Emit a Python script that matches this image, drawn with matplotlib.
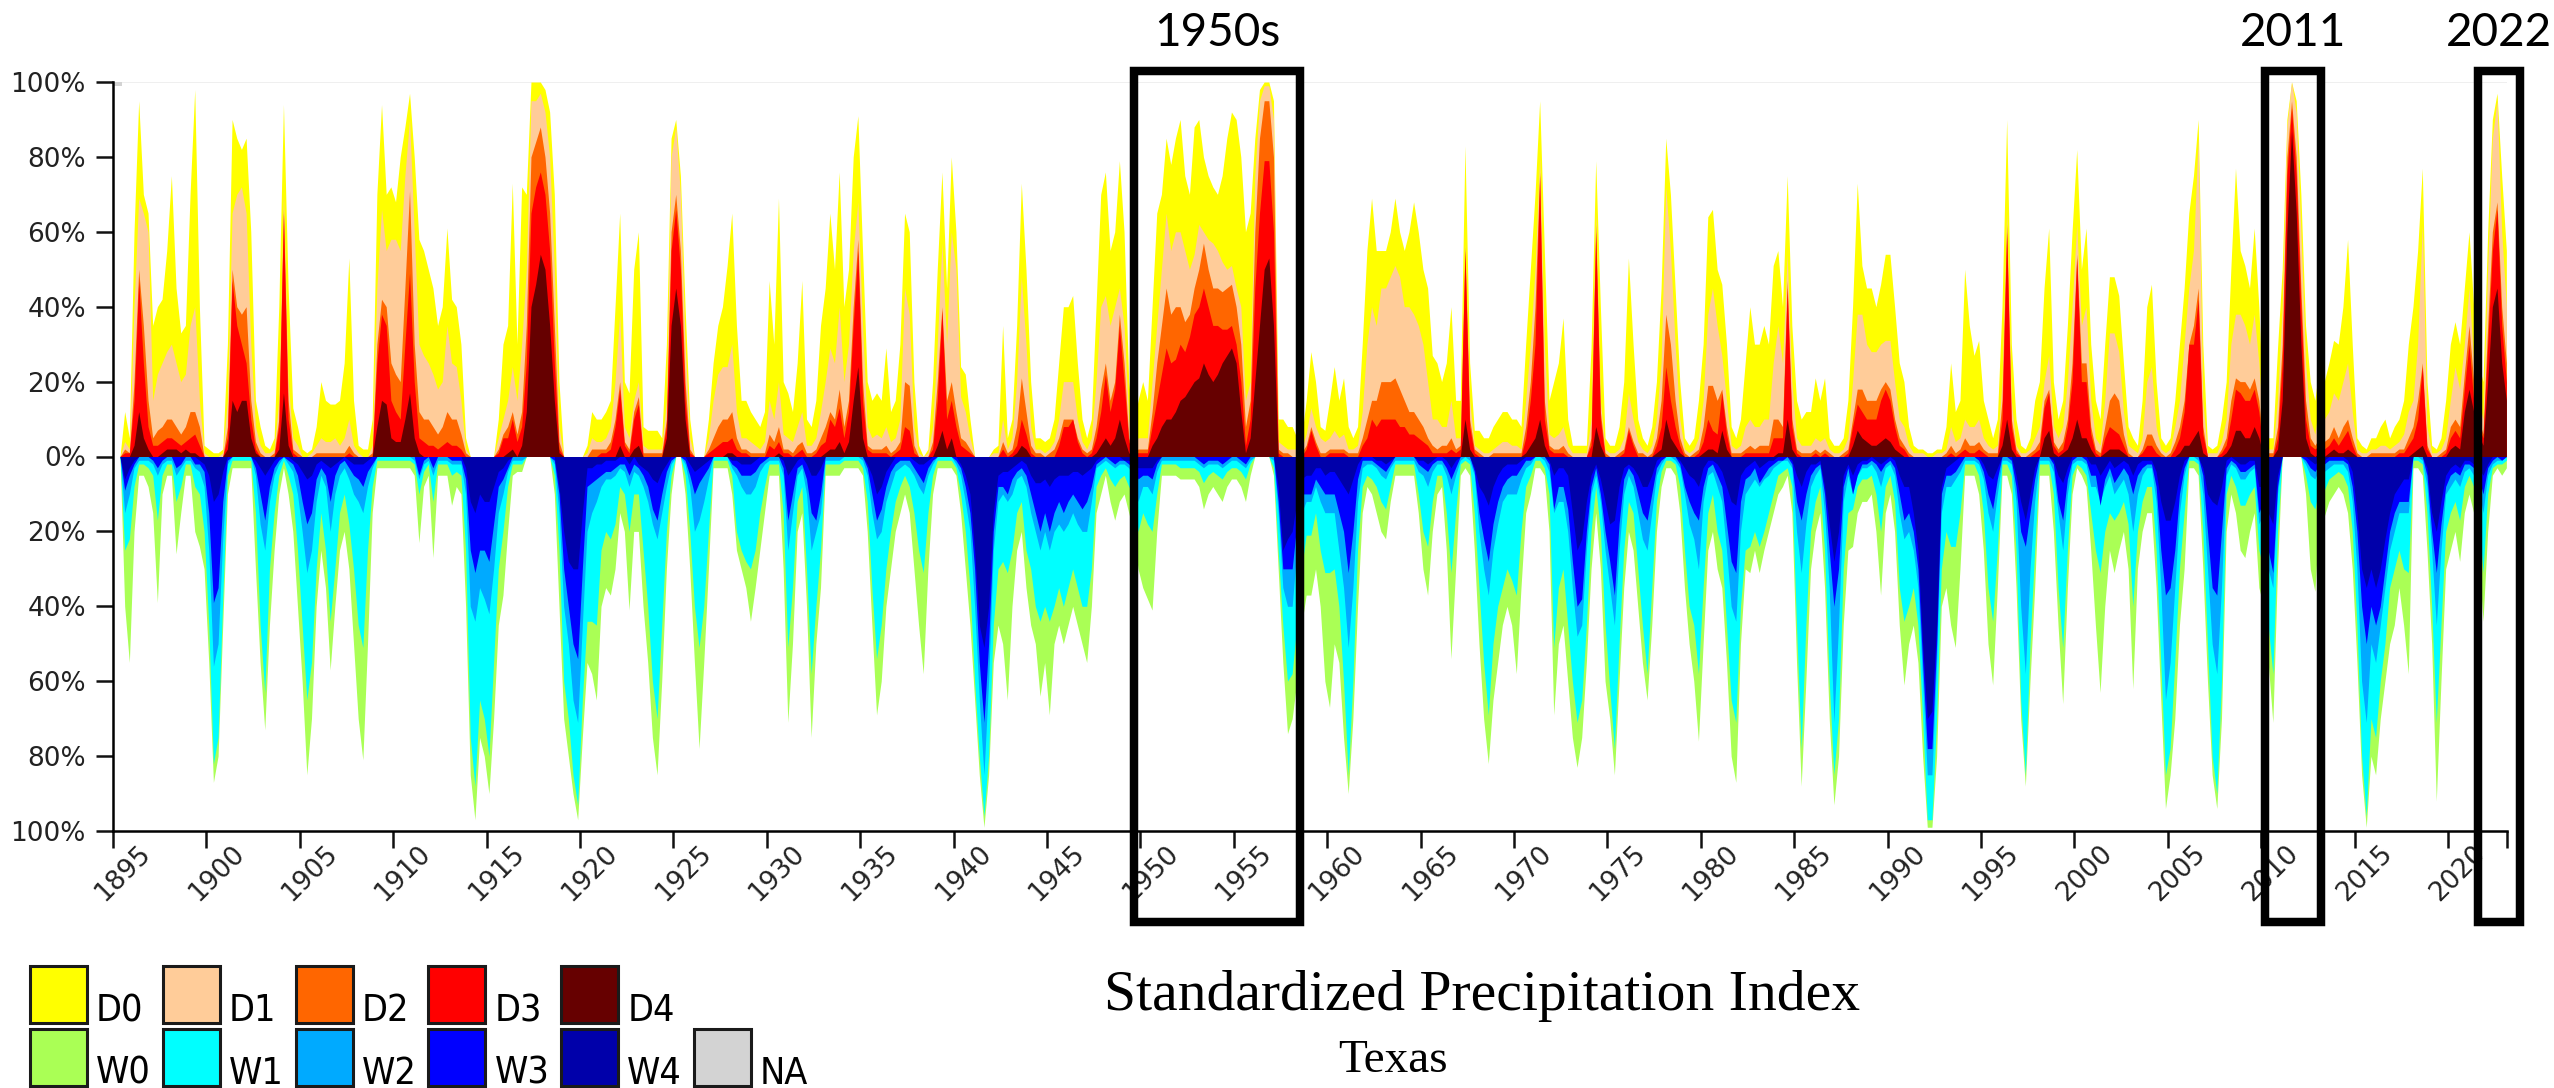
import numpy as np
import matplotlib.pyplot as plt
import matplotlib.transforms as mtransforms
from matplotlib.patches import Rectangle

# Texas SPI, percent of area per category, quarterly; one row per year,
# 2023 only has its first quarter. Dry edges are cumulative (D0 = D0..D4).
years = list(range(1895, 2024))

d0 = [
    [0, 0, 12, 5], [60, 95, 70, 65], [35, 40, 42, 55], [75, 45, 33, 35], [70, 98, 40, 3],  # 1895
    [2, 1, 1, 2], [30, 90, 85, 82], [85, 60, 15, 8], [3, 2, 5, 40], [94, 45, 13, 8],  # 1900
    [2, 1, 2, 8], [20, 15, 14, 14], [15, 25, 53, 15], [3, 2, 2, 10], [70, 94, 70, 72],  # 1905
    [68, 80, 88, 97], [80, 58, 55, 50], [45, 35, 40, 61], [42, 40, 30, 5], [0, 0, 0, 0],  # 1910
    [0, 0, 10, 30], [35, 73, 30, 72], [70, 100, 100, 100], [98, 92, 70, 20], [0, 0, 0, 0],  # 1915
    [0, 3, 12, 10], [10, 12, 15, 40], [65, 20, 17, 50], [60, 8, 7, 7], [7, 5, 30, 85],  # 1920
    [90, 75, 40, 10], [0, 0, 0, 10], [25, 35, 40, 51], [65, 35, 15, 15], [12, 10, 8, 12],  # 1925
    [47, 30, 69, 20], [17, 12, 25, 47], [10, 8, 15, 35], [45, 65, 50, 76], [40, 50, 80, 91],  # 1930
    [55, 20, 15, 17], [15, 29, 12, 15], [30, 65, 60, 20], [3, 0, 2, 20], [50, 76, 45, 80],  # 1935
    [60, 24, 22, 10], [0, 0, 0, 0], [2, 3, 35, 5], [10, 35, 73, 50], [20, 5, 5, 4],  # 1940
    [5, 10, 25, 40], [40, 43, 25, 10], [5, 10, 40, 70], [76, 55, 60, 79], [60, 20, 8, 15],  # 1945
    [20, 15, 40, 65], [70, 85, 78, 85], [90, 75, 70, 88], [90, 80, 75, 72], [70, 75, 85, 92],  # 1950
    [90, 80, 60, 65], [85, 98, 100, 100], [95, 10, 10, 8], [8, 5, 5, 15], [28, 20, 8, 7],  # 1955
    [15, 24, 15, 21], [8, 5, 8, 30], [55, 69, 55, 55], [55, 60, 69, 60], [55, 60, 68, 60],  # 1960
    [50, 45, 27, 25], [20, 25, 40, 15], [15, 83, 25, 7], [7, 5, 5, 8], [10, 12, 12, 10],  # 1965
    [10, 8, 30, 50], [70, 95, 55, 15], [20, 25, 37, 10], [3, 3, 3, 3], [29, 79, 40, 5],  # 1970
    [3, 3, 8, 20], [53, 30, 10, 5], [3, 8, 20, 45], [85, 70, 45, 20], [5, 3, 5, 15],  # 1975
    [30, 64, 66, 50], [46, 30, 8, 5], [10, 25, 40, 30], [30, 35, 30, 51], [55, 40, 75, 35],  # 1980
    [15, 10, 12, 12], [21, 15, 21, 5], [3, 3, 5, 15], [40, 73, 51, 45], [45, 40, 46, 54],  # 1985
    [54, 40, 25, 20], [8, 3, 2, 2], [1, 1, 2, 2], [8, 25, 12, 15], [50, 35, 27, 31],  # 1990
    [15, 10, 5, 10], [40, 90, 30, 10], [3, 2, 5, 15], [20, 45, 61, 20], [10, 15, 35, 60],  # 1995
    [82, 50, 61, 30], [15, 10, 30, 48], [48, 43, 25, 8], [5, 3, 15, 40], [46, 20, 5, 3],  # 2000
    [5, 15, 30, 45], [65, 75, 90, 30], [3, 2, 3, 10], [20, 50, 77, 55], [51, 45, 61, 40],  # 2005
    [10, 5, 5, 29], [50, 90, 100, 95], [70, 35, 20, 15], [25, 20, 25, 31], [30, 40, 58, 30],  # 2010
    [5, 3, 2, 5], [5, 8, 10, 5], [8, 10, 15, 30], [40, 55, 77, 20], [3, 2, 5, 15],  # 2015
    [30, 36, 30, 45], [60, 40, 25, 20], [60, 90, 97, 75], [55],  # 2020
]

d1 = [
    [0, 0, 4, 2], [40, 69, 65, 60], [15, 22, 25, 28], [30, 25, 20, 22], [35, 40, 15, 1],
    [0, 0, 0, 1], [15, 65, 70, 72], [65, 30, 8, 3], [1, 1, 2, 15], [70, 20, 5, 3],
    [0, 0, 1, 3], [5, 4, 4, 5], [3, 5, 10, 3], [1, 0, 0, 3], [45, 66, 55, 58],
    [58, 55, 75, 90], [60, 30, 27, 25], [22, 18, 20, 35], [25, 24, 15, 2], [0, 0, 0, 0],
    [0, 0, 5, 10], [15, 24, 15, 30], [50, 95, 95, 97], [92, 80, 50, 8], [0, 0, 0, 0],
    [0, 1, 5, 4], [4, 5, 8, 20], [38, 8, 5, 15], [20, 3, 2, 2], [2, 2, 15, 80],
    [88, 70, 30, 5], [0, 0, 0, 5], [15, 22, 24, 24], [30, 12, 5, 5], [4, 3, 2, 4],
    [15, 10, 20, 6], [5, 4, 8, 12], [3, 3, 5, 12], [20, 29, 25, 40], [20, 30, 55, 68],
    [35, 8, 5, 6], [5, 8, 4, 5], [10, 45, 38, 8], [1, 0, 1, 8], [30, 57, 30, 60],
    [50, 16, 12, 5], [0, 0, 0, 0], [1, 1, 10, 2], [5, 20, 48, 30], [8, 2, 2, 1],
    [2, 4, 10, 20], [20, 20, 10, 4], [2, 5, 20, 40], [43, 35, 40, 45], [35, 10, 3, 5],
    [5, 5, 20, 35], [50, 65, 55, 60], [60, 55, 50, 54], [62, 60, 58, 57], [55, 52, 50, 51],
    [45, 40, 15, 20], [75, 95, 99, 99], [90, 4, 3, 2], [2, 2, 2, 6], [13, 8, 5, 4],
    [5, 7, 5, 6], [2, 2, 3, 12], [30, 40, 35, 45], [45, 48, 51, 48], [40, 40, 38, 35],
    [30, 20, 10, 10], [8, 8, 15, 5], [5, 57, 15, 3], [2, 1, 1, 2], [3, 4, 4, 3],
    [3, 2, 15, 30], [50, 80, 30, 6], [5, 6, 8, 3], [1, 1, 1, 1], [10, 65, 15, 2],
    [1, 1, 2, 5], [17, 10, 4, 2], [1, 3, 10, 25], [72, 55, 30, 10], [2, 1, 2, 5],
    [15, 38, 45, 35], [27, 15, 3, 2], [3, 8, 10, 8], [8, 10, 10, 25], [35, 25, 54, 20],
    [5, 3, 3, 3], [5, 4, 5, 2], [1, 1, 2, 5], [20, 38, 38, 30], [28, 28, 30, 31],
    [31, 20, 10, 8], [3, 1, 1, 1], [0, 0, 1, 1], [2, 8, 4, 5], [10, 8, 8, 10],
    [5, 3, 2, 3], [20, 65, 15, 3], [1, 1, 2, 5], [8, 20, 27, 8], [5, 8, 20, 40],
    [62, 35, 40, 15], [5, 3, 15, 33], [33, 28, 12, 3], [2, 1, 5, 20], [24, 8, 2, 1],
    [2, 8, 15, 30], [45, 55, 85, 15], [1, 1, 1, 4], [10, 30, 38, 38], [35, 30, 38, 25],
    [5, 2, 2, 15], [40, 88, 100, 92], [60, 25, 10, 6], [15, 10, 12, 17], [15, 20, 25, 12],
    [2, 1, 1, 2], [2, 3, 3, 2], [3, 4, 6, 12], [15, 30, 62, 8], [1, 1, 2, 5],
    [15, 24, 18, 30], [45, 25, 15, 10], [50, 85, 95, 60], [40],
]

d2 = [
    [0, 0, 2, 1], [20, 50, 35, 15], [5, 7, 8, 10], [10, 8, 6, 8], [12, 12, 8, 0],
    [0, 0, 0, 0], [8, 50, 40, 38], [40, 15, 4, 1], [0, 0, 1, 10], [66, 15, 2, 1],
    [0, 0, 0, 1], [1, 1, 1, 1], [1, 1, 3, 1], [0, 0, 0, 1], [30, 42, 40, 25],
    [22, 20, 45, 71], [30, 12, 10, 10], [8, 6, 8, 12], [10, 10, 6, 1], [0, 0, 0, 0],
    [0, 0, 2, 6], [8, 12, 6, 12], [35, 80, 84, 88], [80, 65, 35, 4], [0, 0, 0, 0],
    [0, 0, 2, 2], [2, 2, 4, 10], [20, 4, 2, 12], [16, 1, 1, 1], [1, 1, 10, 60],
    [70, 55, 20, 2], [0, 0, 0, 2], [5, 8, 10, 10], [12, 5, 2, 2], [1, 1, 1, 1],
    [6, 4, 8, 2], [2, 1, 3, 4], [1, 1, 2, 5], [8, 12, 10, 18], [8, 15, 40, 58],
    [20, 3, 2, 2], [2, 3, 1, 2], [4, 20, 19, 3], [0, 0, 0, 4], [20, 40, 15, 20],
    [12, 5, 4, 2], [0, 0, 0, 0], [0, 0, 4, 1], [2, 8, 21, 12], [3, 1, 1, 0],
    [1, 2, 5, 10], [10, 10, 5, 2], [1, 2, 8, 18], [25, 15, 20, 38], [25, 5, 1, 2],
    [2, 2, 12, 25], [35, 45, 38, 40], [40, 36, 38, 45], [50, 57, 50, 45], [45, 44, 45, 46],
    [40, 30, 8, 15], [60, 85, 95, 95], [80, 2, 1, 1], [0, 0, 1, 3], [8, 4, 1, 1],
    [2, 2, 2, 2], [1, 1, 1, 5], [10, 15, 15, 20], [20, 20, 21, 18], [15, 12, 12, 10],
    [8, 5, 3, 2], [3, 3, 5, 2], [3, 56, 10, 2], [1, 0, 0, 1], [1, 1, 1, 1],
    [1, 1, 8, 20], [40, 76, 15, 3], [2, 2, 3, 1], [0, 0, 0, 0], [5, 62, 12, 1],
    [0, 0, 1, 2], [8, 4, 1, 1], [0, 1, 5, 15], [38, 30, 15, 5], [1, 0, 1, 2],
    [8, 19, 19, 15], [18, 8, 1, 1], [1, 2, 3, 2], [3, 3, 3, 10], [10, 8, 47, 10],
    [2, 1, 1, 1], [2, 1, 2, 1], [0, 0, 1, 2], [10, 18, 18, 15], [15, 15, 18, 20],
    [18, 10, 5, 3], [1, 0, 0, 0], [0, 0, 0, 0], [1, 3, 1, 2], [5, 3, 3, 4],
    [2, 1, 1, 1], [15, 62, 10, 2], [0, 0, 1, 2], [4, 15, 18, 4], [2, 4, 10, 25],
    [54, 25, 25, 8], [2, 1, 8, 15], [17, 15, 6, 1], [0, 0, 2, 6], [6, 3, 1, 0],
    [1, 4, 8, 15], [30, 35, 45, 8], [0, 0, 0, 2], [5, 15, 21, 20], [20, 18, 21, 15],
    [2, 1, 1, 8], [30, 80, 95, 80], [45, 15, 5, 3], [5, 4, 5, 8], [5, 8, 10, 5],
    [1, 0, 0, 1], [1, 1, 1, 1], [1, 2, 2, 5], [8, 15, 25, 3], [0, 0, 1, 2],
    [8, 10, 8, 22], [35, 20, 10, 6], [35, 60, 68, 40], [25],
]

d3 = [
    [0, 0, 1, 1], [15, 47, 25, 8], [3, 3, 4, 5], [5, 4, 3, 4], [5, 6, 3, 0],
    [0, 0, 0, 0], [5, 47, 35, 30], [25, 10, 2, 0], [0, 0, 0, 8], [65, 10, 1, 0],
    [0, 0, 0, 0], [0, 0, 0, 0], [0, 0, 1, 0], [0, 0, 0, 0], [25, 38, 35, 15],
    [12, 10, 30, 49], [20, 5, 4, 3], [3, 2, 3, 4], [3, 3, 2, 0], [0, 0, 0, 0],
    [0, 0, 1, 5], [5, 10, 4, 8], [25, 65, 72, 76], [70, 55, 25, 2], [0, 0, 0, 0],
    [0, 0, 0, 0], [1, 1, 2, 8], [18, 3, 1, 10], [14, 0, 0, 0], [0, 0, 8, 55],
    [66, 50, 15, 1], [0, 0, 0, 1], [2, 3, 4, 4], [5, 2, 1, 1], [0, 0, 0, 0],
    [3, 2, 4, 1], [1, 0, 1, 2], [0, 0, 1, 3], [4, 10, 8, 13], [5, 12, 35, 55],
    [15, 2, 1, 1], [1, 1, 0, 1], [2, 8, 7, 1], [0, 0, 0, 2], [15, 39, 10, 15],
    [8, 3, 2, 1], [0, 0, 0, 0], [0, 0, 2, 0], [1, 3, 10, 6], [1, 0, 0, 0],
    [0, 0, 3, 8], [8, 10, 4, 1], [0, 1, 5, 12], [22, 12, 18, 35], [20, 4, 1, 1],
    [1, 1, 8, 15], [22, 29, 25, 26], [30, 28, 32, 38], [40, 45, 40, 35], [35, 34, 34, 35],
    [30, 20, 3, 10], [45, 65, 79, 79], [60, 1, 0, 0], [0, 0, 0, 2], [7, 3, 0, 0],
    [1, 1, 1, 1], [0, 0, 0, 3], [5, 10, 8, 10], [10, 10, 10, 8], [8, 6, 6, 5],
    [4, 3, 1, 1], [1, 1, 2, 1], [2, 55, 8, 1], [0, 0, 0, 0], [0, 0, 0, 0],
    [0, 0, 5, 15], [30, 75, 10, 2], [1, 1, 1, 0], [0, 0, 0, 0], [3, 60, 10, 0],
    [0, 0, 0, 1], [7, 3, 0, 0], [0, 0, 3, 8], [24, 15, 8, 3], [0, 0, 0, 1],
    [4, 10, 7, 6], [17, 6, 0, 0], [0, 1, 1, 1], [1, 1, 1, 5], [5, 5, 45, 8],
    [1, 0, 0, 0], [1, 0, 1, 0], [0, 0, 0, 1], [8, 14, 12, 10], [10, 10, 15, 18],
    [15, 8, 3, 2], [0, 0, 0, 0], [0, 0, 0, 0], [0, 1, 0, 1], [2, 1, 1, 2],
    [1, 0, 0, 0], [10, 60, 8, 1], [0, 0, 0, 1], [2, 13, 17, 3], [1, 2, 8, 20],
    [53, 20, 20, 6], [1, 0, 5, 8], [7, 6, 3, 0], [0, 0, 1, 3], [3, 1, 0, 0],
    [0, 2, 5, 12], [30, 30, 42, 6], [0, 0, 0, 1], [3, 10, 18, 17], [15, 15, 18, 12],
    [1, 0, 0, 5], [25, 75, 93, 75], [40, 10, 3, 2], [3, 2, 3, 5], [3, 5, 7, 3],
    [0, 0, 0, 0], [0, 0, 0, 0], [0, 1, 1, 3], [5, 10, 24, 2], [0, 0, 0, 1],
    [5, 7, 5, 18], [30, 15, 8, 5], [30, 55, 66, 35], [20],
]

d4 = [
    [0, 0, 0, 0], [3, 12, 5, 2], [0, 0, 1, 2], [2, 2, 1, 2], [1, 1, 0, 0],
    [0, 0, 0, 0], [2, 15, 12, 15], [15, 5, 1, 0], [0, 0, 0, 2], [17, 3, 0, 0],
    [0, 0, 0, 0], [0, 0, 0, 0], [0, 0, 0, 0], [0, 0, 0, 0], [8, 15, 14, 5],
    [4, 4, 10, 17], [5, 1, 0, 0], [0, 0, 0, 0], [0, 0, 0, 0], [0, 0, 0, 0],
    [0, 0, 0, 0], [1, 2, 0, 3], [12, 40, 46, 54], [50, 35, 15, 1], [0, 0, 0, 0],
    [0, 0, 0, 0], [0, 0, 0, 0], [3, 0, 0, 2], [3, 0, 0, 0], [0, 0, 5, 35],
    [45, 35, 10, 0], [0, 0, 0, 0], [0, 0, 0, 1], [1, 0, 0, 0], [0, 0, 0, 0],
    [0, 0, 1, 0], [0, 0, 0, 0], [0, 0, 0, 0], [1, 2, 2, 4], [1, 4, 15, 24],
    [5, 0, 0, 0], [0, 0, 0, 0], [0, 0, 0, 0], [0, 0, 0, 0], [3, 7, 2, 5],
    [0, 0, 0, 0], [0, 0, 0, 0], [0, 0, 0, 0], [0, 1, 3, 2], [0, 0, 0, 0],
    [0, 0, 0, 0], [0, 0, 0, 0], [0, 0, 1, 3], [5, 3, 5, 10], [5, 1, 0, 0],
    [0, 0, 3, 5], [8, 10, 10, 12], [15, 16, 18, 20], [21, 25, 22, 20], [22, 25, 27, 29],
    [25, 12, 1, 5], [20, 35, 50, 53], [35, 0, 0, 0], [0, 0, 0, 0], [0, 0, 0, 0],
    [0, 0, 0, 0], [0, 0, 0, 0], [0, 0, 0, 0], [0, 0, 0, 0], [0, 0, 0, 0],
    [0, 0, 0, 0], [0, 0, 0, 0], [0, 10, 2, 0], [0, 0, 0, 0], [0, 0, 0, 0],
    [0, 0, 1, 3], [5, 10, 3, 0], [0, 0, 0, 0], [0, 0, 0, 0], [0, 8, 3, 0],
    [0, 0, 0, 0], [0, 0, 0, 0], [0, 0, 1, 2], [10, 5, 3, 1], [0, 0, 0, 0],
    [1, 2, 2, 1], [7, 2, 0, 0], [0, 0, 0, 0], [0, 0, 0, 0], [1, 1, 10, 2],
    [0, 0, 0, 0], [0, 0, 0, 0], [0, 0, 0, 0], [3, 7, 5, 4], [3, 3, 4, 5],
    [4, 2, 1, 0], [0, 0, 0, 0], [0, 0, 0, 0], [0, 0, 0, 0], [0, 0, 0, 0],
    [0, 0, 0, 0], [3, 10, 2, 0], [0, 0, 0, 0], [0, 5, 7, 1], [0, 1, 2, 5],
    [10, 5, 5, 2], [0, 0, 1, 2], [2, 2, 1, 0], [0, 0, 0, 0], [0, 0, 0, 0],
    [0, 0, 1, 3], [3, 5, 7, 1], [0, 0, 0, 0], [1, 3, 7, 7], [5, 5, 8, 5],
    [0, 0, 0, 2], [15, 60, 87, 65], [30, 5, 1, 0], [1, 0, 1, 2], [1, 1, 2, 1],
    [0, 0, 0, 0], [0, 0, 0, 0], [0, 0, 0, 0], [1, 2, 3, 0], [0, 0, 0, 0],
    [2, 3, 2, 12], [18, 12, 6, 3], [20, 40, 45, 25], [15],
]

# wet side, cumulative the same way (W0 = W0..W4), plotted below zero
w0 = [
    [0, 0, 40, 55], [20, 5, 5, 8], [15, 39, 10, 5], [5, 26, 15, 5], [5, 20, 24, 30],
    [55, 87, 80, 45], [10, 3, 3, 3], [3, 3, 30, 55], [73, 45, 25, 10], [3, 10, 20, 40],
    [60, 85, 70, 40], [25, 35, 57, 40], [25, 20, 30, 50], [70, 81, 50, 15], [3, 3, 3, 3],
    [3, 3, 3, 3], [5, 23, 8, 5], [27, 5, 5, 5], [13, 8, 10, 40], [85, 97, 75, 80],
    [90, 70, 45, 37], [20, 5, 4, 4], [0, 0, 0, 0], [0, 0, 10, 40], [70, 80, 90, 97],
    [75, 55, 58, 65], [40, 35, 37, 30], [15, 20, 41, 20], [20, 40, 55, 75], [85, 60, 30, 10],
    [0, 0, 10, 30], [55, 78, 55, 30], [3, 3, 3, 3], [10, 25, 30, 35], [44, 35, 25, 15],
    [5, 5, 5, 30], [71, 50, 20, 15], [40, 75, 50, 35], [5, 5, 5, 5], [3, 3, 3, 3],
    [5, 20, 45, 69], [60, 40, 30, 20], [15, 10, 15, 30], [45, 58, 30, 10], [3, 3, 3, 3],
    [5, 15, 30, 45], [65, 85, 99, 85], [55, 45, 50, 65], [40, 25, 20, 35], [45, 50, 64, 55],
    [69, 50, 45, 50], [45, 40, 45, 50], [55, 40, 15, 10], [5, 12, 17, 12], [10, 15, 20, 30],
    [35, 38, 41, 20], [5, 5, 5, 5], [6, 6, 6, 6], [8, 14, 10, 8], [10, 12, 8, 6],
    [6, 8, 12, 5], [0, 0, 0, 0], [5, 30, 55, 74], [70, 60, 45, 37], [37, 30, 40, 60],
    [67, 50, 55, 75], [90, 70, 40, 15], [8, 10, 15, 20], [22, 12, 5, 5], [5, 5, 5, 15],
    [30, 37, 20, 10], [8, 25, 54, 30], [5, 3, 5, 25], [50, 70, 82, 65], [55, 45, 40, 45],
    [58, 35, 15, 10], [3, 3, 5, 20], [69, 50, 45, 60], [75, 83, 75, 55], [30, 15, 30, 60],
    [70, 85, 60, 35], [20, 25, 40, 55], [65, 45, 20, 8], [3, 3, 5, 15], [35, 50, 60, 76],
    [50, 25, 20, 30], [35, 55, 80, 87], [50, 30, 31, 25], [31, 25, 20, 15], [10, 8, 5, 15],
    [55, 88, 60, 30], [20, 15, 35, 70], [93, 80, 45, 25], [24, 15, 12, 12], [10, 20, 37, 15],
    [10, 20, 45, 61], [50, 45, 55, 80], [99, 99, 80, 40], [35, 45, 51, 30], [5, 5, 5, 10],
    [25, 50, 61, 35], [5, 5, 10, 35], [70, 88, 60, 35], [5, 5, 5, 20], [45, 66, 35, 10],
    [3, 5, 8, 25], [45, 63, 40, 25], [31, 25, 20, 30], [62, 30, 20, 15], [15, 35, 65, 94],
    [85, 70, 45, 30], [3, 3, 5, 30], [60, 85, 94, 70], [20, 10, 15, 25], [27, 20, 15, 35],
    [40, 55, 71, 30], [0, 0, 0, 0], [0, 10, 30, 36], [15, 16, 12, 10], [8, 10, 15, 30],
    [55, 85, 99, 80], [85, 70, 60, 50], [45, 35, 45, 58], [3, 3, 5, 25], [50, 92, 60, 30],
    [25, 20, 28, 15], [10, 15, 25, 44], [20, 5, 3, 5], [3],
]

w1 = [
    [0, 0, 25, 22], [8, 2, 2, 3], [5, 17, 5, 2], [2, 12, 8, 2], [2, 8, 10, 20],
    [45, 82, 75, 38], [5, 1, 1, 1], [1, 1, 15, 45], [63, 30, 15, 5], [1, 5, 10, 25],
    [45, 65, 55, 30], [15, 25, 44, 30], [15, 10, 18, 30], [45, 51, 25, 8], [1, 1, 1, 1],
    [1, 1, 1, 1], [2, 10, 4, 2], [12, 2, 2, 2], [5, 4, 5, 25], [75, 88, 65, 70],
    [80, 55, 30, 20], [8, 2, 2, 2], [0, 0, 0, 0], [0, 0, 5, 25], [60, 70, 85, 93],
    [65, 44, 44, 45], [25, 20, 22, 18], [8, 10, 20, 10], [10, 25, 40, 60], [70, 45, 20, 5],
    [0, 0, 5, 20], [40, 51, 40, 20], [1, 1, 1, 1], [5, 20, 25, 28], [30, 25, 15, 8],
    [2, 2, 2, 15], [51, 35, 12, 8], [30, 58, 40, 25], [2, 2, 2, 2], [1, 1, 1, 1],
    [3, 12, 35, 54], [45, 30, 20, 12], [8, 5, 8, 15], [25, 31, 15, 5], [1, 1, 1, 1],
    [3, 10, 20, 35], [60, 80, 96, 80], [45, 30, 28, 31], [25, 15, 12, 25], [30, 40, 44, 40],
    [44, 40, 35, 40], [35, 30, 35, 40], [40, 30, 8, 5], [3, 6, 8, 6], [5, 8, 10, 20],
    [15, 18, 20, 10], [2, 2, 2, 2], [3, 3, 3, 3], [4, 7, 5, 4], [5, 6, 4, 3],
    [3, 4, 6, 2], [0, 0, 0, 0], [3, 25, 45, 60], [58, 45, 30, 21], [21, 15, 25, 31],
    [31, 30, 40, 60], [85, 60, 25, 8], [5, 6, 8, 12], [14, 8, 2, 2], [2, 2, 2, 10],
    [20, 24, 12, 5], [5, 15, 31, 15], [2, 1, 2, 15], [35, 55, 69, 50], [40, 35, 30, 33],
    [37, 20, 8, 5], [1, 1, 3, 10], [51, 35, 30, 45], [60, 71, 65, 45], [20, 8, 20, 45],
    [62, 78, 50, 25], [12, 15, 30, 45], [58, 35, 12, 4], [1, 1, 2, 8], [25, 40, 45, 58],
    [35, 15, 10, 20], [25, 45, 65, 71], [40, 25, 24, 20], [24, 20, 15, 10], [5, 4, 3, 8],
    [45, 78, 45, 20], [12, 8, 25, 60], [85, 70, 30, 15], [14, 8, 6, 6], [5, 10, 20, 8],
    [5, 12, 35, 44], [40, 35, 45, 70], [97, 97, 70, 30], [20, 24, 24, 15], [2, 2, 2, 5],
    [15, 35, 44, 25], [2, 2, 5, 25], [65, 85, 50, 25], [2, 2, 2, 10], [35, 51, 25, 5],
    [2, 3, 5, 15], [25, 31, 20, 15], [17, 15, 12, 18], [40, 20, 12, 8], [8, 25, 55, 85],
    [78, 55, 30, 15], [1, 1, 2, 20], [50, 80, 90, 60], [10, 5, 8, 13], [13, 10, 8, 25],
    [30, 45, 58, 20], [0, 0, 0, 0], [0, 5, 12, 14], [8, 9, 6, 5], [4, 5, 8, 20],
    [45, 80, 96, 70], [75, 60, 50, 35], [30, 25, 30, 31], [1, 1, 2, 15], [40, 71, 45, 20],
    [15, 12, 17, 8], [5, 8, 15, 31], [10, 3, 2, 2], [1],
]

w2 = [
    [0, 0, 15, 10], [3, 1, 1, 1], [2, 5, 2, 1], [1, 5, 3, 1], [1, 3, 4, 8],
    [25, 56, 50, 22], [2, 0, 0, 0], [0, 0, 5, 18], [25, 12, 5, 2], [0, 2, 4, 10],
    [20, 31, 25, 12], [5, 8, 20, 10], [5, 3, 6, 10], [12, 15, 8, 3], [0, 0, 0, 0],
    [0, 0, 0, 0], [1, 6, 2, 1], [5, 1, 1, 1], [2, 2, 2, 10], [40, 44, 35, 38],
    [42, 30, 15, 10], [4, 1, 1, 1], [0, 0, 0, 0], [0, 0, 2, 15], [40, 50, 65, 71],
    [45, 20, 15, 12], [8, 6, 6, 5], [3, 4, 8, 4], [5, 8, 12, 18], [22, 15, 8, 2],
    [0, 0, 2, 8], [20, 17, 12, 6], [0, 0, 0, 0], [3, 5, 8, 10], [10, 8, 4, 2],
    [1, 1, 1, 5], [25, 15, 5, 3], [10, 25, 20, 15], [1, 1, 1, 1], [0, 0, 0, 0],
    [1, 5, 15, 22], [20, 12, 8, 4], [3, 2, 3, 5], [8, 10, 5, 2], [0, 0, 0, 0],
    [2, 5, 12, 20], [40, 65, 85, 60], [25, 12, 10, 12], [10, 6, 5, 8], [15, 20, 25, 20],
    [25, 20, 18, 20], [18, 15, 18, 20], [20, 12, 3, 2], [1, 2, 3, 2], [2, 3, 5, 12],
    [8, 8, 10, 4], [1, 1, 1, 1], [1, 1, 1, 1], [2, 3, 2, 2], [2, 3, 2, 1],
    [1, 2, 3, 1], [0, 0, 0, 0], [1, 15, 35, 40], [40, 25, 15, 12], [12, 8, 12, 15],
    [15, 15, 25, 35], [51, 35, 12, 3], [2, 2, 3, 5], [6, 3, 1, 1], [1, 1, 1, 4],
    [5, 8, 4, 2], [2, 5, 10, 5], [1, 0, 1, 5], [20, 30, 37, 25], [18, 12, 10, 10],
    [10, 6, 3, 2], [0, 0, 1, 4], [15, 12, 12, 20], [35, 48, 45, 25], [10, 5, 12, 25],
    [35, 45, 25, 10], [5, 8, 15, 22], [25, 15, 5, 2], [0, 0, 1, 3], [10, 18, 22, 30],
    [12, 5, 4, 8], [12, 25, 40, 44], [20, 10, 8, 6], [8, 6, 5, 3], [2, 1, 1, 3],
    [20, 31, 18, 8], [5, 3, 15, 35], [71, 45, 12, 5], [10, 5, 3, 3], [2, 4, 8, 3],
    [2, 5, 15, 22], [20, 25, 35, 60], [85, 85, 55, 15], [8, 8, 6, 4], [1, 1, 1, 2],
    [6, 15, 20, 10], [1, 1, 2, 12], [40, 58, 30, 12], [1, 1, 1, 4], [15, 25, 10, 2],
    [1, 1, 2, 8], [8, 12, 8, 5], [10, 8, 6, 10], [20, 10, 5, 3], [3, 12, 35, 65],
    [55, 35, 15, 5], [0, 0, 1, 10], [30, 50, 58, 35], [5, 2, 3, 6], [6, 4, 3, 18],
    [15, 30, 35, 10], [0, 0, 0, 0], [0, 2, 5, 6], [3, 4, 3, 2], [2, 2, 4, 12],
    [30, 60, 71, 50], [55, 45, 35, 25], [20, 15, 15, 15], [0, 0, 1, 8], [25, 45, 25, 10],
    [8, 6, 8, 4], [3, 5, 8, 15], [5, 2, 1, 1], [0],
]

w3 = [
    [0, 0, 9, 5], [2, 0, 0, 0], [1, 3, 1, 0], [0, 3, 2, 0], [0, 2, 2, 4],
    [15, 39, 35, 12], [1, 0, 0, 0], [0, 0, 3, 10], [17, 8, 3, 1], [0, 1, 2, 5],
    [12, 18, 15, 6], [3, 5, 12, 5], [2, 1, 3, 5], [6, 8, 4, 2], [0, 0, 0, 0],
    [0, 0, 0, 0], [0, 5, 1, 0], [3, 0, 0, 0], [1, 1, 1, 6], [25, 31, 25, 25],
    [28, 18, 8, 6], [3, 0, 0, 0], [0, 0, 0, 0], [0, 0, 1, 10], [30, 40, 50, 54],
    [30, 8, 7, 6], [5, 4, 4, 3], [2, 2, 5, 2], [3, 5, 8, 14], [17, 10, 4, 1],
    [0, 0, 1, 5], [10, 7, 5, 3], [0, 0, 0, 0], [2, 3, 5, 5], [5, 4, 2, 1],
    [0, 0, 0, 3], [17, 10, 3, 2], [6, 15, 17, 10], [0, 0, 0, 0], [0, 0, 0, 0],
    [0, 3, 10, 17], [14, 8, 4, 2], [1, 1, 1, 3], [5, 7, 3, 1], [0, 0, 0, 0],
    [1, 3, 8, 15], [30, 55, 71, 50], [20, 8, 8, 10], [6, 4, 3, 5], [10, 15, 20, 15],
    [20, 15, 12, 15], [12, 10, 12, 14], [12, 8, 2, 1], [0, 1, 2, 1], [1, 2, 3, 6],
    [5, 5, 6, 2], [0, 0, 0, 0], [0, 0, 0, 0], [1, 2, 1, 1], [1, 2, 1, 0],
    [0, 1, 2, 0], [0, 0, 0, 0], [0, 12, 30, 30], [30, 18, 10, 10], [10, 6, 8, 10],
    [10, 10, 15, 20], [31, 20, 6, 1], [1, 1, 2, 3], [4, 2, 0, 0], [0, 0, 0, 2],
    [3, 4, 2, 1], [1, 3, 6, 3], [0, 0, 0, 4], [15, 22, 28, 18], [12, 8, 6, 5],
    [5, 3, 1, 1], [0, 0, 0, 2], [14, 8, 8, 14], [28, 40, 38, 20], [8, 3, 10, 20],
    [28, 37, 18, 6], [3, 5, 10, 15], [17, 10, 3, 1], [0, 0, 0, 2], [8, 12, 15, 17],
    [8, 3, 2, 5], [8, 18, 28, 31], [12, 6, 5, 3], [7, 5, 3, 2], [1, 1, 0, 2],
    [12, 17, 10, 5], [3, 2, 10, 25], [40, 30, 8, 3], [10, 5, 2, 2], [1, 2, 4, 2],
    [1, 3, 10, 17], [15, 20, 30, 55], [78, 78, 50, 10], [5, 5, 4, 2], [0, 0, 0, 1],
    [4, 10, 14, 6], [0, 0, 1, 8], [20, 24, 15, 6], [0, 0, 0, 2], [12, 17, 6, 1],
    [0, 0, 1, 5], [5, 13, 6, 3], [7, 5, 3, 5], [10, 5, 3, 2], [2, 8, 25, 37],
    [35, 25, 10, 3], [0, 0, 0, 5], [20, 35, 37, 20], [3, 1, 2, 4], [4, 3, 2, 15],
    [12, 25, 31, 8], [0, 0, 0, 0], [0, 1, 3, 4], [2, 2, 1, 1], [1, 1, 2, 8],
    [20, 40, 50, 40], [45, 40, 30, 20], [15, 12, 12, 12], [0, 0, 0, 5], [20, 31, 18, 8],
    [5, 4, 5, 2], [2, 3, 5, 10], [3, 1, 0, 1], [0],
]

w4 = [
    [0, 0, 6, 3], [1, 0, 0, 0], [0, 0, 0, 0], [0, 0, 0, 0], [0, 0, 1, 2],
    [5, 12, 10, 4], [0, 0, 0, 0], [0, 0, 1, 3], [5, 3, 1, 0], [0, 0, 1, 2],
    [4, 6, 5, 2], [1, 2, 3, 2], [1, 0, 1, 2], [2, 2, 1, 0], [0, 0, 0, 0],
    [0, 0, 0, 0], [0, 0, 0, 0], [0, 0, 0, 0], [0, 0, 0, 3], [12, 15, 10, 12],
    [12, 8, 4, 3], [1, 0, 0, 0], [0, 0, 0, 0], [0, 0, 0, 8], [20, 28, 30, 30],
    [15, 3, 3, 2], [2, 1, 1, 1], [0, 0, 2, 0], [2, 3, 4, 6], [7, 4, 2, 0],
    [0, 0, 0, 2], [4, 3, 2, 1], [0, 0, 0, 0], [1, 1, 2, 2], [2, 1, 0, 0],
    [0, 0, 0, 1], [5, 3, 1, 0], [2, 5, 5, 3], [0, 0, 0, 0], [0, 0, 0, 0],
    [0, 2, 5, 10], [8, 4, 2, 0], [0, 0, 0, 1], [2, 2, 1, 0], [0, 0, 0, 0],
    [0, 2, 5, 10], [25, 45, 51, 40], [15, 5, 4, 4], [3, 2, 1, 2], [5, 7, 7, 6],
    [8, 6, 5, 5], [5, 4, 4, 5], [4, 3, 1, 0], [0, 0, 0, 0], [1, 1, 2, 3],
    [3, 3, 3, 1], [0, 0, 0, 0], [0, 0, 0, 0], [0, 0, 0, 0], [0, 0, 0, 0],
    [0, 0, 0, 0], [0, 0, 0, 0], [0, 8, 25, 22], [20, 12, 6, 5], [5, 3, 3, 5],
    [4, 4, 6, 8], [10, 6, 2, 0], [0, 0, 1, 1], [2, 1, 0, 0], [0, 0, 0, 1],
    [1, 2, 1, 0], [0, 1, 3, 1], [0, 0, 0, 3], [8, 10, 13, 8], [5, 3, 2, 2],
    [2, 1, 0, 0], [0, 0, 0, 1], [5, 3, 3, 5], [15, 25, 22, 12], [5, 2, 6, 12],
    [18, 17, 8, 3], [2, 3, 5, 8], [8, 5, 1, 0], [0, 0, 0, 1], [3, 5, 6, 8],
    [3, 1, 1, 2], [4, 8, 12, 13], [5, 3, 2, 1], [3, 2, 1, 1], [0, 0, 0, 1],
    [5, 8, 4, 2], [2, 1, 8, 18], [28, 20, 5, 2], [5, 2, 1, 1], [0, 1, 2, 1],
    [0, 1, 5, 8], [8, 15, 25, 50], [70, 68, 45, 8], [3, 2, 1, 0], [0, 0, 0, 0],
    [2, 5, 6, 3], [0, 0, 0, 5], [12, 17, 10, 3], [0, 0, 0, 1], [5, 7, 3, 0],
    [0, 0, 0, 2], [2, 5, 3, 1], [3, 2, 1, 2], [5, 2, 1, 1], [1, 4, 12, 17],
    [17, 12, 5, 1], [0, 0, 0, 3], [10, 12, 13, 8], [1, 0, 1, 2], [2, 1, 1, 8],
    [8, 15, 18, 5], [0, 0, 0, 0], [0, 0, 1, 2], [1, 1, 0, 0], [0, 0, 1, 4],
    [15, 30, 35, 30], [35, 30, 22, 15], [10, 8, 6, 6], [0, 0, 0, 3], [15, 20, 12, 5],
    [3, 2, 3, 1], [1, 2, 3, 5], [2, 0, 0, 0], [0],
]

# months with no data at the start of the record
na_years = [1895.0, 1895.5]
na_pct = [1.2, 1.2]

dry_labels = ["D0", "D1", "D2", "D3", "D4"]
wet_labels = ["W0", "W1", "W2", "W3", "W4"]
dry_colors = ["#ffff00", "#ffcc99", "#ff6600", "#ff0000", "#660000"]
wet_colors = ["#aaff55", "#00ffff", "#00aaff", "#0000ff", "#0000aa"]
na_color = "#d3d3d3"

highlights = [("1950s", 1949.66, 1958.54), ("2011", 2010.19, 2013.2), ("2022", 2021.6, 2023.83)]


def flat(rows):
    return np.array([v for row in rows for v in row], dtype=float)


x = np.array([yr + (q + 0.5) / 4 for yr, row in zip(years, d0) for q in range(len(row))])
dry = [flat(s) for s in (d0, d1, d2, d3, d4)]
wet = [flat(s) for s in (w0, w1, w2, w3, w4)]
for s in dry + wet:
    assert len(s) == len(x)

W, H = 2554, 1088
fig = plt.figure(figsize=(W / 100, H / 100), dpi=100)
ax = fig.add_axes([113 / W, 1 - 831 / H, 2394 / W, 749 / H])

ax.axhline(100, color="#ececec", lw=1.2, zorder=0)
for vals, c in zip(dry, dry_colors):
    ax.fill_between(x, 0, vals, color=c, lw=0)
for vals, c in zip(wet, wet_colors):
    ax.fill_between(x, 0, -vals, color=c, lw=0)
ax.fill_between(na_years, 100 - np.array(na_pct), 100, color=na_color, lw=0)

x_end = 2023.16
ax.set_xlim(1895, x_end)
ax.set_ylim(-100, 100)
for side in ("top", "right"):
    ax.spines[side].set_visible(False)
for side in ("left", "bottom"):
    ax.spines[side].set_linewidth(1.8)

xt = list(range(1895, 2021, 5))
ax.set_xticks(xt + [x_end], [str(t) for t in xt] + [""])
yt = np.arange(-100, 101, 20)
ax.set_yticks(yt, [f"{abs(v)}%" for v in yt])
ax.tick_params(axis="both", length=12.5, width=1.8, colors="#111111")
ax.tick_params(axis="y", labelsize=19, pad=7, labelcolor="#222222")
ax.tick_params(axis="x", labelsize=19, pad=-6, labelcolor="#222222")
nudge = mtransforms.ScaledTranslation(0.1, 0, fig.dpi_scale_trans)
for lbl in ax.get_xticklabels():
    lbl.set_rotation(45)
    lbl.set_ha("center")
    lbl.set_transform(lbl.get_transform() + nudge)

# highlight boxes with their captions
blend = mtransforms.blended_transform_factory(ax.transData, ax.transAxes)
for name, x0, x1 in highlights:
    ax.add_patch(Rectangle((x0, -0.1215), x1 - x0, 1.0147 + 0.1215, transform=blend,
                           fill=False, ec="black", lw=6.1, clip_on=False, zorder=5))
    ax.text((x0 + x1) / 2, 1.0654, name, transform=blend, ha="center", va="center",
            fontsize=33, family="Lato", color="black")

fig.text(1482 / W, 1 - 996 / H, "Standardized Precipitation Index", ha="center",
         va="center", fontsize=41.5, family="Liberation Serif")
fig.text(1393 / W, 1 - 1061 / H, "Texas", ha="center", va="center", fontsize=34,
         family="Liberation Serif")

# legend: two rows of swatches
rows = [(966, list(zip(dry_labels, dry_colors))),
        (1029, list(zip(wet_labels, wet_colors)) + [("NA", na_color)])]
for top, items in rows:
    for i, (lab, col) in enumerate(items):
        left = 30 + i * 132.8
        fig.add_artist(Rectangle((left / W, 1 - (top + 57) / H), 57 / W, 57 / H,
                                 transform=fig.transFigure, fc=col, ec="#1a1a1a", lw=2.2))
        fig.text((left + 66) / W, 1 - (top + 55) / H, lab, ha="left", va="baseline",
                 fontsize=27, family="DejaVu Sans", fontstretch="condensed")

fig.savefig("out.png", dpi=100)
